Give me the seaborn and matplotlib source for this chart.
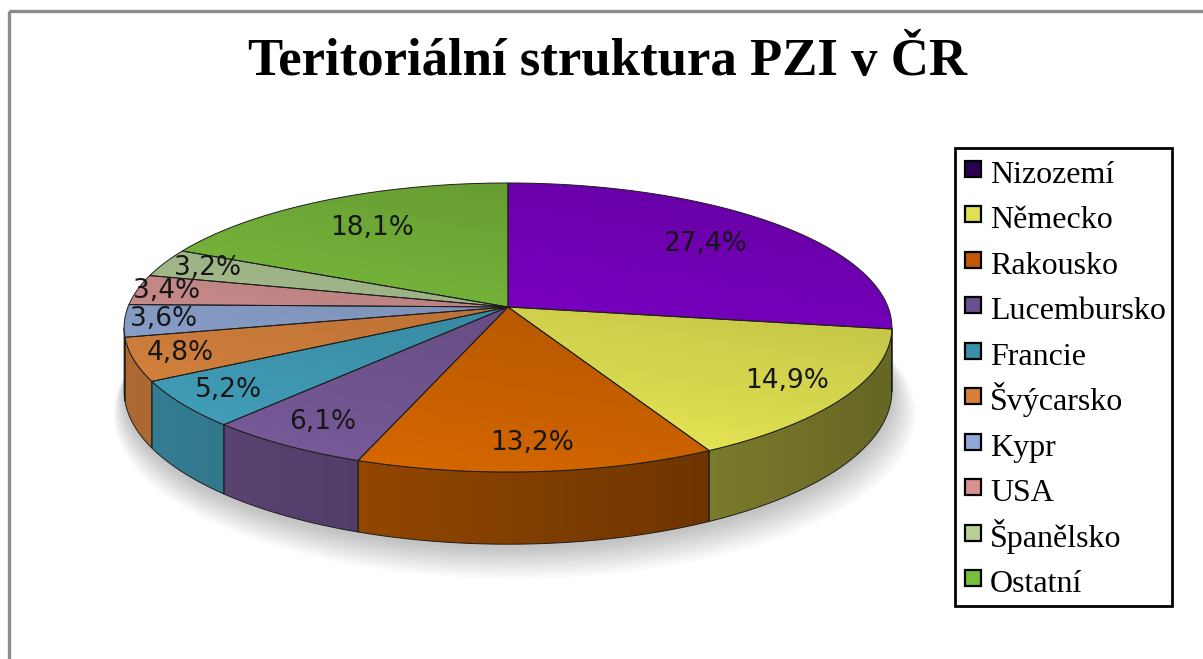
import numpy as np
import matplotlib
matplotlib.use("Agg")
import matplotlib.pyplot as plt
import seaborn as sns
from matplotlib.patches import Polygon, Rectangle
from matplotlib.lines import Line2D
from matplotlib.path import Path

sns.set_theme(style="white")
plt.rcParams["font.family"] = ["DejaVu Sans"]

# data
countries = ["Nizozemí", "Německo", "Rakousko", "Lucembursko", "Francie",
             "Švýcarsko", "Kypr", "USA", "Španělsko", "Ostatní"]
shares = [27.4, 14.9, 13.2, 6.1, 5.2, 4.8, 3.6, 3.4, 3.2, 18.1]
labels = ["27,4%", "14,9%", "13,2%", "6,1%", "5,2%", "4,8%", "3,6%", "3,4%", "3,2%", "18,1%"]

# styling
top_colors = ["#9000e6", "#f8f85a", "#dc6a00", "#7a5c9c", "#44a4c0",
              "#e08840", "#96aedc", "#e09c9c", "#bcd6a0", "#8ad444"]
legend_colors = ["#2a0050", "#e0e050", "#c05808", "#6a5090", "#3a90a8",
                 "#d8803a", "#90a8d8", "#d89090", "#b8d098", "#78c038"]
label_r = [0.73, 0.84, 0.85, 0.85, 0.87, 0.88, 0.9, 0.92, 0.87, 0.72]

W, H = 1203, 659
cx, cy, R = 508, 307, 380
sin_phi = 0.3726
cos_phi = np.sqrt(1 - sin_phi ** 2)
D = 6.55
depth = 62
# silhouette angle of the visible rim under perspective
sil = np.degrees(np.arcsin(cos_phi / D))


def proj(theta, r=1.0, drop=0.0):
    th = np.radians(theta)
    x0 = r * np.cos(th)
    y0 = r * np.sin(th)
    s = D / (D + y0 * cos_phi)
    return cx + R * x0 * s, cy - R * sin_phi * y0 * s + drop * s


fig = plt.figure(figsize=(W / 100, H / 100), dpi=100)
ax = fig.add_axes([0, 0, 1, 1])
ax.set_xlim(0, W)
ax.set_ylim(H, 0)
ax.axis("off")

# outer gray frame (partially cut off like the source screenshot)
ax.add_patch(Rectangle((9, 11), W + 20, H + 20, fill=False, ec="#8c8c8c", lw=2.4, zorder=1))

total = sum(shares)
angles = [90 - 360 * c / total for c in np.concatenate([[0], np.cumsum(shares)])]

# soft shadow under the pie
th_all = np.linspace(0, 360, 400)
for k in range(12):
    bx, by = proj(th_all, 1.0 + 0.004 * k, depth + 4 + k * 1.6)
    ax.fill(bx + k * 0.6, by, color="#000000", alpha=0.018, lw=0, zorder=2)

# side walls
side_patches = []
for i in range(len(shares)):
    a0, a1 = angles[i], angles[i + 1]
    lo, hi = max(a1, -180 + sil), min(a0, -sil)
    if lo >= hi:
        continue
    th = np.linspace(hi, lo, 60)
    tx, ty = proj(th)
    bx, by = proj(th[::-1], 1.0, depth)
    pts = np.column_stack([np.concatenate([tx, bx]), np.concatenate([ty, by])])
    base = np.array(matplotlib.colors.to_rgb(top_colors[i])) * 0.78
    ax.add_patch(Polygon(pts, closed=True, fc=base, ec="none", zorder=3))
    side_patches.append(pts)

# darkening gradient across the side walls
verts, codes = [], []
for pts in side_patches:
    verts += list(pts) + [pts[0]]
    codes += [Path.MOVETO] + [Path.LINETO] * (len(pts) - 1) + [Path.CLOSEPOLY]
clip = matplotlib.patches.PathPatch(Path(verts, codes), fc="none", ec="none")
ax.add_patch(clip)
gx = np.linspace(0, 1, 300)
grad = np.zeros((2, 300, 4))
grad[..., 3] = 0.48 * gx
im = ax.imshow(grad, extent=(cx - R * 1.03, cx + R * 1.03, 560, 300),
               aspect="auto", zorder=4, interpolation="bilinear")
im.set_clip_path(clip)
for pts in side_patches:
    ax.add_patch(Polygon(pts, closed=True, fill=False, ec="#1e1e1e", lw=0.7, zorder=5))

# top faces
for i in range(len(shares)):
    th = np.linspace(angles[i], angles[i + 1], 120)
    tx, ty = proj(th)
    pts = np.column_stack([np.concatenate([[cx], tx]), np.concatenate([[cy], ty])])
    ax.add_patch(Polygon(pts, closed=True, fc=top_colors[i], ec="none", zorder=6))

# lighting gradient on top surface
ex, ey = proj(th_all)
top_clip = Polygon(np.column_stack([ex, ey]), closed=True, fc="none", ec="none")
ax.add_patch(top_clip)
gx, gy = np.meshgrid(np.linspace(0, 1, 200), np.linspace(0, 1, 200))
t = np.clip(0.75 * (1 - gy) + 0.35 * gx - 0.05, 0, 1)
shade = np.zeros((200, 200, 4))
shade[..., 3] = 0.3 * t
im2 = ax.imshow(shade, extent=(cx - R * 1.03, cx + R * 1.03, 480, 180),
                aspect="auto", zorder=7, interpolation="bilinear")
im2.set_clip_path(top_clip)

# slice outlines
for i in range(len(shares)):
    th = np.linspace(angles[i], angles[i + 1], 120)
    tx, ty = proj(th)
    pts = np.column_stack([np.concatenate([[cx], tx]), np.concatenate([[cy], ty])])
    ax.add_patch(Polygon(pts, closed=True, fill=False, ec="#1e1e1e", lw=0.7, zorder=8))

# percentage labels
for i, lab in enumerate(labels):
    mid = (angles[i] + angles[i + 1]) / 2
    lx, ly = proj(mid, label_r[i])
    ax.text(lx, ly, lab, ha="center", va="center", fontsize=19,
            color="#161616", zorder=9)

# title
ax.text(607, 62, "Teritoriální struktura PZI v ČR", ha="center", va="center",
        fontsize=38, fontweight="bold", family="Liberation Serif", color="black", zorder=9)

# legend (square markers keep every row the same height)
handles = [Line2D([], [], ls="none", marker="s", markersize=12, markerfacecolor=c,
                  markeredgecolor="black", markeredgewidth=1.6) for c in legend_colors]
leg = ax.legend(handles, countries, loc="upper left",
                bbox_to_anchor=(955 / W, 1 - 148 / H), bbox_transform=fig.transFigure,
                frameon=True, fancybox=False, framealpha=1, edgecolor="black",
                prop={"family": "Liberation Serif", "size": 23}, labelcolor="black",
                handlelength=0.75, handleheight=1.32, handletextpad=0.15,
                labelspacing=0.32, borderpad=0.2, borderaxespad=0)
leg.get_frame().set_linewidth(2)
leg.set_zorder(10)

fig.savefig("out.png", dpi=100, facecolor="white")
